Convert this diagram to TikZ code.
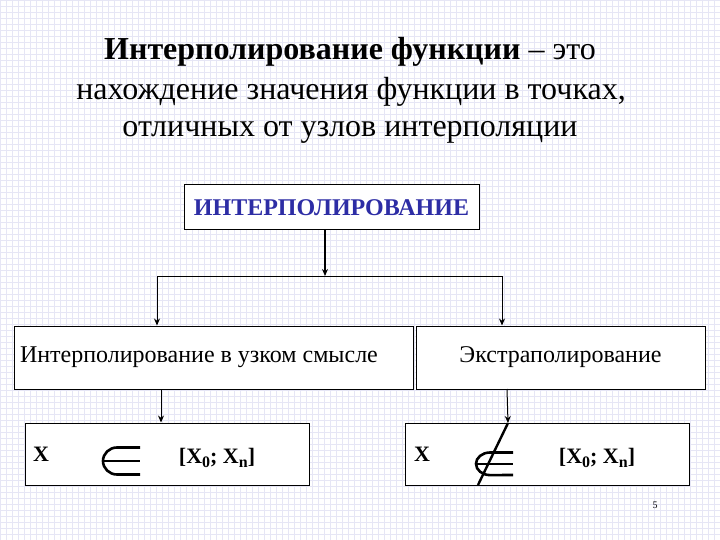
\documentclass[tikz,border=0pt]{standalone}
\usepackage{fontspec}
\setmainfont{Liberation Serif}
\usetikzlibrary{positioning, arrows.meta}
\definecolor{gridblue}{RGB}{230,230,245}
\definecolor{headblue}{RGB}{45,45,165}
\newcommand{\lowsub}[1]{\raisebox{-4.5pt}{\fontsize{16}{16}\selectfont #1}}
\begin{document}
\begin{tikzpicture}[
  x=1pt, y=-1pt,
  box/.style={draw, line width=1pt, fill=white, inner sep=0pt, font=\fontsize{24}{28}\selectfont},
  title/.style={anchor=base, font=\fontsize{32}{38}\selectfont},
  label/.style={anchor=base, font=\fontsize{22}{26}\selectfont\bfseries},
  arrow/.style={-{Stealth[length=7pt,width=6pt]}, line width=1pt},
  elem/.style={line width=2.6pt}
]

% Background paper
\useasboundingbox (0,0) rectangle (720,540);
\fill[white] (0,0) rectangle (720,540);
\draw[gridblue, line width=0.5pt, step=6pt] (0,0) grid (720,540);

% Title
\node[title] (title1) at (350, 60) {\textbf{Интерполирование функции} – это};
\node[title] (title2) at (351, 100) {нахождение значения функции в точках,};
\node[title] (title3) at (350, 137) {отличных от узлов интерполяции};

% Top box
\node[box, minimum width=295pt, minimum height=45pt, text=headblue, font=\fontsize{24}{28}\selectfont\bfseries] (interp) at (331.5, 207.5) {ИНТЕРПОЛИРОВАНИЕ};

% Second level
\node[box, minimum width=399pt, minimum height=63pt, text width=387pt, align=flush left, inner xsep=6pt] (narrow) at (213.5, 357.5) {Интерполирование в узком смысле};
\node[box, minimum width=289pt, minimum height=63pt] (extra) at (560.5, 357.5) {Экстраполирование};

% Bottom boxes
\node[box, minimum width=284pt, minimum height=62pt] (inbox) at (167, 454) {};
\node[box, minimum width=284pt, minimum height=62pt] (outbox) at (547, 454) {};

\node[label] (inx) at (41, 461) {X};
\node[label] (inseg) at (217, 463) {[X\lowsub{0}; X\lowsub{n}]};
\node[label] (outx) at (422, 461) {X};
\node[label] (outseg) at (597, 463) {[X\lowsub{0}; X\lowsub{n}]};

% membership signs
\draw[elem] (140, 447.5) -- (117, 447.5) arc[start angle=270, end angle=90, x radius=14, y radius=13.5] -- (140, 474.5);
\draw[elem] (103, 461) -- (140, 461);
\draw[elem] (513, 452.5) -- (490, 452.5) arc[start angle=270, end angle=90, x radius=14, y radius=11.3] -- (513, 475);
\draw[elem] (476, 463.8) -- (513, 463.8);

% Page number
\node[font=\fontsize{10}{12}\selectfont] (pagenum) at (655, 505) {5};

% Connectors
\coordinate (split) at (325, 276);
\coordinate (splitL) at (157, 276);
\coordinate (splitR) at (502, 276);
\coordinate (narrowout) at (161, 389);
\coordinate (extraout) at (507, 389);
\coordinate (slashtop) at (508, 423);
\coordinate (slashbot) at (478, 485);

\draw[arrow, line width=1.6pt] (split |- interp.south) -- (split);
\draw[line width=1pt] (splitL) -- (splitR);
\draw[arrow] (splitL) -- (splitL |- narrow.north);
\draw[arrow] (splitR) -- (splitR |- extra.north);
\draw[arrow] (narrowout) -- (narrowout |- inbox.north);
\draw[arrow] (extraout) -- (slashtop);
\draw[line width=2.4pt] (slashtop) -- (slashbot);

\end{tikzpicture}
\end{document}
